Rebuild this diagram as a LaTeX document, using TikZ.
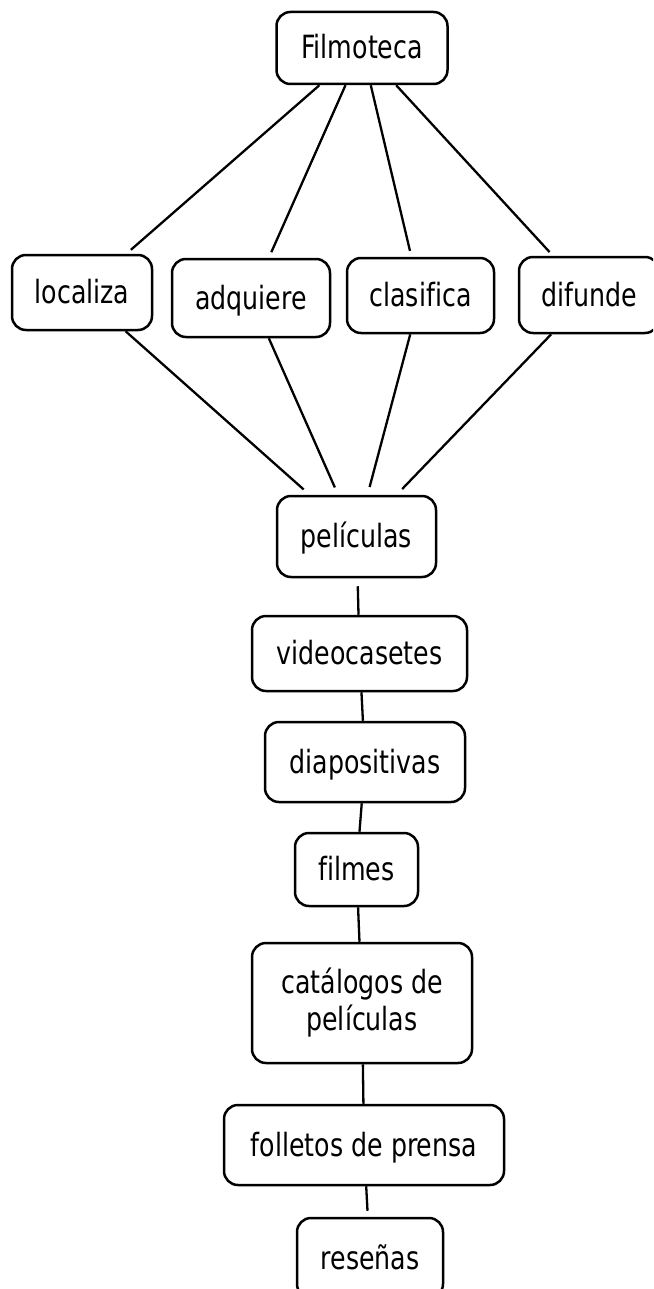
\documentclass[tikz,border=0pt]{standalone}
\usepackage{fontspec}
\setmainfont[FakeStretch=0.79,Ligatures=NoCommon]{DejaVu Sans}
\begin{document}
\begin{tikzpicture}[x=1pt,y=-1pt,
  concept/.style={draw, line width=2.5pt, rounded corners=14pt, inner sep=0pt,
    align=center, font=\fontsize{32}{37}\selectfont},
  oneline/.style={concept, text height=23pt, text depth=1pt},
  link/.style={line width=2.3pt}]
\useasboundingbox (0,0) rectangle (653,1289);
\clip (0,0) rectangle (653,1289);
\node[oneline, minimum width=171pt, minimum height=72pt] (fil) at (362,48) {Filmoteca};
\node[oneline, minimum width=140pt, minimum height=75pt] (loc) at (82,292.5) {localiza};
\node[oneline, minimum width=158pt, minimum height=78pt] (adq) at (251,298) {adquiere};
\node[oneline, minimum width=147pt, minimum height=75pt] (cla) at (420.5,295.5) {clasifica};
\node[oneline, minimum width=140pt, minimum height=76pt] (dif) at (589,295) {difunde};
\node[oneline, minimum width=159pt, minimum height=81pt] (pel) at (356.5,536.5) {películas};
\node[oneline, minimum width=215pt, minimum height=75pt] (vid) at (359.5,653.5) {videocasetes};
\node[oneline, minimum width=200pt, minimum height=80pt] (dia) at (365,762) {diapositivas};
\node[oneline, minimum width=123pt, minimum height=73pt] (flm) at (356.5,869.5) {filmes};
\node[concept, minimum width=220pt, minimum height=120pt] (cat) at (362,1003) {catálogos de\\películas};
\node[oneline, minimum width=280pt, minimum height=80pt] (fol) at (364,1145) {folletos de prensa};
\node[oneline, minimum width=146pt, minimum height=80pt] (res) at (370,1258) {reseñas};
\draw[link, shorten >=6pt] (fil) -- (loc);
\draw[link, shorten >=6pt] (fil) -- (adq);
\draw[link, shorten >=6pt] (fil) -- (cla);
\draw[link, shorten >=5pt] (fil) -- (dif);
\draw[link, shorten >=8pt] (loc) -- (pel);
\draw[link, shorten >=8pt] (adq) -- (pel);
\draw[link, shorten >=8pt] (cla) -- (pel);
\draw[link, shorten >=8pt] (dif) -- (pel);
\draw[link, shorten <=8pt] (pel) -- (vid);
\draw[link] (vid) -- (dia);
\draw[link] (dia) -- (flm);
\draw[link] (flm) -- (cat);
\draw[link] (cat) -- (fol);
\draw[link, shorten >=6pt] (fol) -- (res);
\end{tikzpicture}
\end{document}
